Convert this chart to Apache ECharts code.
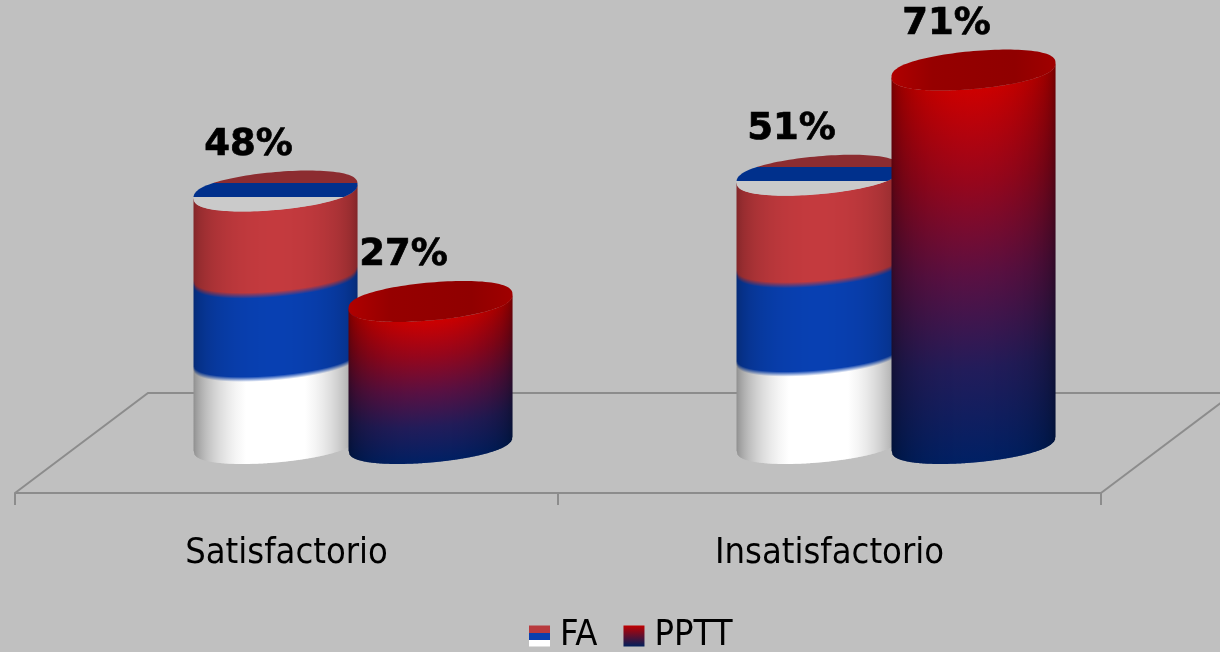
<!DOCTYPE html>
<html>
<head>
<meta charset="utf-8">
<style>html,body{margin:0;padding:0;background:#c0c0c0}#c{width:1220px;height:652px}</style>
<script src="https://cdn.jsdelivr.net/npm/echarts@6/dist/echarts.min.js"></script>
</head>
<body>
<div id="c"></div>
<script>
var categories = ['Satisfactorio', 'Insatisfactorio'];
var faValues = [48, 51];
var ppttValues = [27, 71];

var FONT = '"DejaVu Sans", sans-serif';
var FONT_TEXT = '"DejaVu Sans Condensed", "DejaVu Sans", sans-serif';
var RX = 82, RY = 19, TILT = 7, ROUND = 0.41;

function arc(c) { return Math.pow(Math.max(0, 1 - c * c), ROUND); }
function lowCurve(c) { return RY * arc(c) - TILT * c; }
function highCurve(c) { return -RY * arc(c) - TILT * c; }
function hex(r, g, b, s) {
  function f(v) { return Math.max(0, Math.min(255, Math.round(v * s))); }
  return 'rgb(' + f(r) + ',' + f(g) + ',' + f(b) + ')';
}
function vgrad(stops) {
  return { type: 'linear', x: 0, y: 0, x2: 0, y2: 1, colorStops: stops };
}

function faSlice(c, h) {
  var k = Math.sqrt(Math.max(0, 1 - c * c));
  var sCol = 0.62 + 0.38 * k;
  var sW = Math.min(1, 0.55 + 0.5 * Math.pow(k, 1.5));
  var e = 3 / h;
  var red = hex(196, 58, 62, sCol), blue = hex(8, 64, 178, sCol), white = hex(255, 255, 255, sW);
  return vgrad([
    { offset: 0, color: red },
    { offset: 1 / 3 - e, color: red },
    { offset: 1 / 3 + e, color: blue },
    { offset: 2 / 3 - e, color: blue },
    { offset: 2 / 3 + e * 0.7, color: white },
    { offset: 1, color: white }
  ]);
}
function ppttSlice(c) {
  var k = Math.sqrt(Math.max(0, 1 - c * c));
  var s = 0.52 + 0.48 * k;
  return vgrad([
    { offset: 0, color: hex(205, 0, 0, s) },
    { offset: 0.25, color: hex(150, 6, 28, s) },
    { offset: 0.5, color: hex(90, 16, 66, s) },
    { offset: 0.75, color: hex(34, 28, 90, s) },
    { offset: 1, color: hex(0, 32, 100, s) }
  ]);
}
function capPoints(cx, cy) {
  var pts = [], i, c;
  for (i = 0; i <= 60; i++) {
    c = Math.cos(i / 60 * Math.PI);
    pts.push([cx + RX * c, cy + lowCurve(c)]);
  }
  for (i = 1; i < 60; i++) {
    c = -Math.cos(i / 60 * Math.PI);
    pts.push([cx + RX * c, cy + highCurve(c)]);
  }
  return pts;
}

function cylinderRender(kind, shift) {
  return function (params, api) {
    var idx = api.value(0), val = api.value(1);
    var top = api.coord([idx, val]);
    var base = api.coord([idx, 0]);
    var cx = top[0] + shift, yT = top[1], yB = base[1];
    var children = [];
    for (var x = -RX; x < RX; x++) {
      var x2 = Math.min(RX, x + 1.6);
      var c1 = x / RX, c2 = x2 / RX, cm = (x + 0.5) / RX;
      children.push({
        type: 'polygon', silent: true,
        shape: { points: [
          [cx + x, yT + lowCurve(c1)], [cx + x2, yT + lowCurve(c2)],
          [cx + x2, yB + lowCurve(c2)], [cx + x, yB + lowCurve(c1)]
        ] },
        style: { fill: kind === 'fa' ? faSlice(cm, yB - yT) : ppttSlice(cm) }
      });
    }
    children.push({
      type: 'polygon', silent: true,
      shape: { points: capPoints(cx, yT) },
      style: {
        fill: kind === 'fa'
          ? vgrad([
              { offset: 0, color: '#8c2c30' }, { offset: 0.3, color: '#8c2c30' },
              { offset: 0.3, color: '#00308c' }, { offset: 0.65, color: '#00308c' },
              { offset: 0.65, color: '#cacaca' }, { offset: 1, color: '#cacaca' }
            ])
          : { type: 'linear', x: 0, y: 0, x2: 1, y2: 0, colorStops: [
              { offset: 0, color: '#b00000' }, { offset: 0.25, color: '#960000' },
              { offset: 0.75, color: '#900000' }, { offset: 1, color: '#a00000' }
            ] }
      }
    });
    children.push({
      type: 'text', silent: true,
      style: {
        x: cx - 27, y: yT - 46, text: val + '%', fill: '#000', stroke: '#000', lineWidth: 0.7,
        font: 'bold 37px ' + FONT, align: 'center', verticalAlign: 'middle'
      }
    });
    return { type: 'group', children: children };
  };
}

function floorRender(params, api) {
  var a = api.coord([0, 0]);
  var size = api.size([1, 0]);
  var left = a[0] - size[0] / 2, right = left + size[0] * 2;
  var front = a[1] + 49.5, back = front - 100, dx = 133;
  var style = { stroke: '#8c8c8c', lineWidth: 2, fill: 'none' };
  return { type: 'group', silent: true, children: [
    { type: 'polyline', silent: true, shape: { points: [[left, front], [left + dx, back], [right + dx, back]] }, style: style },
    { type: 'line', silent: true, shape: { x1: right, y1: front, x2: right + dx, y2: back }, style: style }
  ] };
}

function rows(values) { return values.map(function (v, i) { return [i, v]; }); }

var option = {
  backgroundColor: '#c0c0c0',
  animation: false,
  grid: { left: 15, width: 1086, top: 22.7, height: 420.8, containLabel: false },
  xAxis: {
    type: 'category', data: categories, position: 'bottom', offset: 49.5,
    axisLine: { onZero: false, lineStyle: { color: '#8c8c8c', width: 2 } },
    axisTick: { show: true, length: 12, lineStyle: { color: '#8c8c8c', width: 2 } },
    axisLabel: { fontFamily: FONT_TEXT, fontSize: 36, color: '#000', margin: 43 },
    splitLine: { show: false }
  },
  yAxis: { type: 'value', min: 0, max: 80, show: false },
  legend: {
    data: ['FA', 'PPTT'], left: 529, top: 616, itemWidth: 21, itemHeight: 21, itemGap: 26,
    icon: 'rect', padding: 0,
    textStyle: { fontFamily: FONT_TEXT, fontSize: 36, color: '#000', padding: [0, 0, 0, 5], lineHeight: 40 }
  },
  series: [
    { type: 'custom', name: 'floor', data: [[0, 0]], renderItem: floorRender, z: 1, silent: true, encode: { x: 0, y: 1 } },
    {
      type: 'custom', name: 'FA', data: rows(faValues), renderItem: cylinderRender('fa', -11), z: 2, encode: { x: 0, y: 1 },
      itemStyle: { color: vgrad([
        { offset: 0, color: '#b83a3e' }, { offset: 1 / 3, color: '#b83a3e' },
        { offset: 1 / 3, color: '#0a3fae' }, { offset: 2 / 3, color: '#0a3fae' },
        { offset: 2 / 3, color: '#ffffff' }, { offset: 1, color: '#ffffff' }
      ]) }
    },
    {
      type: 'custom', name: 'PPTT', data: rows(ppttValues), renderItem: cylinderRender('pptt', 144), z: 3, encode: { x: 0, y: 1 },
      itemStyle: { color: vgrad([{ offset: 0, color: '#c00000' }, { offset: 1, color: '#001f5c' }]) }
    }
  ]
};
var chart = echarts.init(document.getElementById('c'), null, { renderer: 'canvas' });
chart.setOption(option);
</script>
</body>
</html>
